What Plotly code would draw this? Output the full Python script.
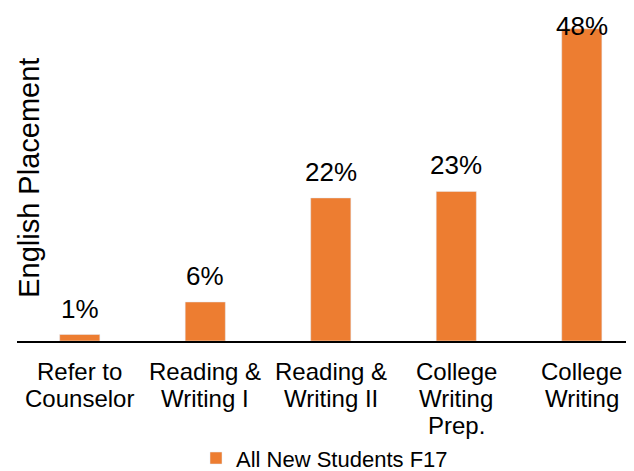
import plotly.graph_objects as go

# Данные
categories = ["Refer to<br>Counselor", "Reading &<br>Writing I", "Reading &<br>Writing II",
              "College<br>Writing<br>Prep.", "College<br>Writing"]
values = [1, 6, 22, 23, 48]
labels = [f"{v}%" for v in values]
series_name = "All New Students F17"
y_title = "English Placement"

orange = '#ED7D31'
font_family = 'Liberation Sans, Arial, sans-serif'

fig = go.Figure()

fig.add_trace(go.Bar(
    x=categories,
    y=values,
    name=series_name,
    marker=dict(color=orange),
    width=0.32,
    showlegend=True
))

# Подписи значений (верхняя ограничена областью графика)
for cat, v, lab in zip(categories, values, labels):
    fig.add_annotation(
        x=cat, y=min(v, 44.5),
        text=lab,
        showarrow=False,
        yanchor='bottom',
        yshift=9,
        font=dict(size=26, color='#000000', family=font_family)
    )

# Подписи категорий построчно (плотнее межстрочный интервал)
for cat in categories:
    for i, line in enumerate(cat.split("<br>")):
        fig.add_annotation(
            x=cat, y=0,
            text=line,
            showarrow=False,
            yanchor='middle',
            yshift=-(30 + 27 * i),
            font=dict(size=24, color='#000000', family=font_family)
        )

# Заголовок оси Y
fig.add_annotation(
    text=y_title,
    xref='paper', yref='paper',
    x=0.0195, y=0.49,
    xanchor='center', yanchor='middle',
    textangle=-90,
    showarrow=False,
    font=dict(size=29, color='#000000', family=font_family)
)

fig.update_layout(
    width=626,
    height=463,
    margin=dict(l=9, r=2, t=0, b=130, autoexpand=False),
    plot_bgcolor='white',
    paper_bgcolor='white',
    font=dict(family=font_family, color='#000000'),
    xaxis=dict(
        range=[-0.5, 4.4],
        showline=True,
        linecolor='#000000',
        linewidth=2,
        ticks='',
        showticklabels=False,
        showgrid=False,
        automargin=False
    ),
    yaxis=dict(
        range=[0, 51.2],
        showticklabels=False,
        showgrid=False,
        zeroline=False,
        showline=False,
        automargin=False
    ),
    showlegend=True,
    legend=dict(
        orientation='h',
        x=0.5,
        xanchor='center',
        y=-0.352,
        yanchor='middle',
        font=dict(size=22, color='#000000'),
        itemwidth=30
    )
)

fig.write_html("out.html")
